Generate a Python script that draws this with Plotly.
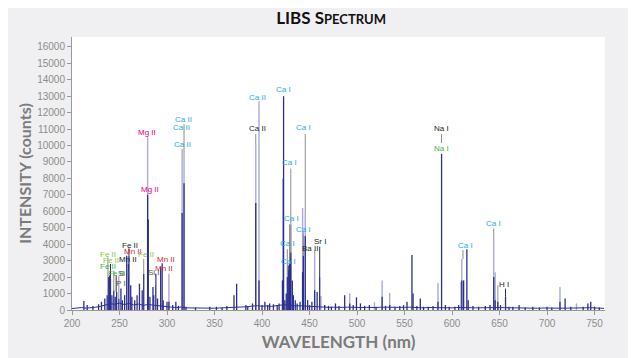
import plotly.graph_objects as go

# baseline of the spectrum, sampled every 5 nm (counts)
base_nm = list(range(200, 761, 5))
base_counts = [
    90, 120, 150, 110, 130, 170, 220, 300, 380, 350, 420, 330, 400, 310, 360, 280,
    340, 300, 260, 240, 200, 170, 150, 180, 130, 120, 110, 120, 105, 115, 110, 120,
    130, 150, 170, 160, 180, 200, 240, 260, 230, 250, 220, 270, 300, 320, 280, 250,
    260, 240, 220, 230, 200, 180, 160, 170, 150, 160, 170, 150, 140, 150, 160, 140,
    150, 170, 160, 150, 140, 150, 160, 170, 150, 140, 130, 150, 140, 160, 150, 140,
    130, 150, 160, 170, 140, 130, 140, 130, 150, 170, 150, 140, 130, 120, 130, 120,
    110, 120, 110, 120, 110, 120, 130, 120, 110, 120, 110, 120, 130, 140, 120, 110,
    100,
]

# emission lines, dark spectrum
dark_nm = [212.5, 216, 222, 228, 231, 234.5, 237, 238.2, 239.6, 240.5, 242, 244, 245.5,
           247, 249.3, 251.5, 253, 255.4, 257.6, 259.4, 259.9, 261.8, 263, 266, 268.5,
           271, 273.9, 275.5, 279.6, 280.3, 282, 285.2, 286, 288.2, 290, 293.3, 294.9,
           296, 300, 302, 306, 309.3, 312, 315.9, 317.9, 320, 330, 345, 352, 358, 363,
           370.5, 373.3, 383, 385, 390, 393.4, 396.8, 400, 403, 406, 408, 412, 416, 418,
           421.5, 422.7, 424, 425.5, 426.6, 427.5, 428.3, 428.9, 429.9, 430.3, 431.9,
           433, 435, 437, 440, 442.7, 443.5, 445.5, 448, 450, 452.5, 455.4, 458, 460.7,
           466, 470, 473, 477.3, 481, 487, 492.3, 496, 499.4, 503.6, 508, 513, 520,
           526.4, 530, 534.4, 540, 545, 549, 552.6, 557.8, 559, 563, 566.6, 570, 575,
           580, 585.2, 589.0, 593, 597, 603, 607, 610.3, 612.2, 615.6, 617, 622, 628,
           635, 640, 643.9, 645.4, 648.2, 651, 656.3, 660, 664, 670.6, 677, 685, 692,
           700, 705, 713.6, 719, 725, 738, 743, 746, 750, 755]
dark_counts = [550, 300, 250, 350, 500, 700, 900, 2000, 2100, 1900, 900, 1200, 800,
               1100, 700, 1300, 600, 900, 3300, 2800, 3300, 1500, 800, 600, 900,
               1600, 1200, 2200, 7000, 5500, 800, 1400, 900, 2200, 700, 2600, 2850,
               600, 500, 500, 300, 500, 250, 5900, 7700, 200, 150, 200, 200, 150, 250,
               900, 1600, 300, 250, 400, 6500, 1800, 300, 500, 300, 400, 350, 300, 400,
               1800, 13000, 600, 1000, 2000, 2700, 2400, 2800, 3200, 3500, 1800,
               900, 600, 400, 500, 2300, 3300, 4500, 600, 300, 500, 1200, 1100, 2000,
               300, 250, 200, 400, 250, 900, 400, 300, 770, 400, 250, 300, 200,
               800, 250, 300, 200, 250, 300, 500, 3350, 1000, 250, 700, 200, 200,
               250, 500, 9500, 300, 200, 200, 300, 1800, 1800, 3700, 600, 250, 200,
               250, 300, 2000, 600, 500, 300, 800, 200, 200, 300, 150, 200, 150,
               200, 150, 500, 700, 200, 200, 400, 500, 200, 150]

# second (lighter) spectrum
light_nm = [279.6, 302, 315.9, 317.9, 393.4, 396.8, 421.8, 430.3, 442.7, 443.5, 445.5,
            455.4, 462, 492.3, 518.3, 526.4, 534.4, 585.2, 609.4, 610.3, 643.9, 645.4,
            648.2, 713.6, 731]
light_counts = [10500, 2200, 9100, 9600, 10100, 12700, 8000, 5200, 6200, 4800, 6000,
                3650, 850, 1000, 470, 1800, 1030, 1640, 1700, 3100, 4300, 2300,
                1500, 1400, 400]

# line labels
lab_text = ["Fe II", "Fe II", "Fe II", "Fe II", "Si I", "P I", "Fe II", "Mn II", "Mn II",
            "Fe II", "Si I", "Mn II", "Mn II", "Mg II", "Mg II", "Ca II", "Ca II", "Ca II",
            "Ca II", "Ca II", "Ca I", "Ca I", "Ca I", "Ca I", "Ca I", "Ca I", "Ca I",
            "Ba II", "Sr I", "Na I", "Na I", "Ca I", "Ca I", "H I"]
lab_nm = [237.8, 241, 237.8, 246.2, 254.6, 251.5, 261, 264, 258.8,
          277.7, 286, 298.7, 296.6, 278.8, 282, 317.6, 315.5, 316.6,
          395.4, 395.4, 422.7, 429, 431.1, 443.4, 443.4, 426.9, 427.9,
          450, 460.5, 588.7, 588.7, 613.9, 643.3, 654.8]
lab_y = [3400, 2980, 2620, 2250, 2190, 1640, 3950, 3530, 3100,
         3350, 2310, 3100, 2550, 10770, 7300, 11560, 11070, 10040,
         12900, 11010, 13380, 8940, 5535, 11070, 4870, 4015, 2920,
         3770, 4140, 11010, 9850, 3950, 5290, 1580]
lab_color = ["#8cc63f", "#8cc63f", "#3ab54a", "#3ab54a", "#555555", "#555555", "#231f20",
             "#d7282f", "#231f20", "#8cc63f", "#555555", "#d7282f", "#d7282f", "#e5007d",
             "#e5007d", "#29a9e0", "#29a9e0", "#29a9e0", "#29a9e0", "#231f20", "#29a9e0",
             "#29a9e0", "#29a9e0", "#29a9e0", "#29a9e0", "#29a9e0", "#29a9e0", "#231f20",
             "#231f20", "#231f20", "#3ab54a", "#29a9e0", "#29a9e0", "#231f20"]

# leader lines from labels down to the peaks
lead_nm = [237.8, 240.5, 244, 246.5, 249.3, 259.9, 275.5, 288.2, 315.9, 317.9, 393.4,
           426.6, 429.0, 430.3, 443.5, 445.5, 460.7, 588.9, 611.5, 643.9, 656.3]
lead_top = [3200, 2800, 2400, 2100, 2050, 3750, 3100, 2050, 9800, 11300, 10700,
            3700, 5200, 8600, 4550, 10700, 3850, 10700, 3650, 4950, 1300]
lead_bottom = [2000, 1900, 1200, 1100, 700, 3300, 2200, 1500, 9100, 9600, 10100,
               2000, 2800, 3500, 3300, 6000, 2000, 10150, 3100, 4300, 800]
lead_color = ["#8c8c8c", "#333333", "#8c8c8c", "#333333", "#8c8c8c", "#333333",
              "#8c8c8c", "#8c8c8c", "#8c8c8c", "#8c8c8c", "#8c8c8c", "#8c8c8c",
              "#8c8c8c", "#8c8c8c", "#8c8c8c", "#8c8c8c", "#333333", "#8c8c8c",
              "#8c8c8c", "#8c8c8c", "#333333"]


def sticks(xs, lows, highs):
    sx, sy = [], []
    for x, lo, hi in zip(xs, lows, highs):
        sx += [x, x, None]
        sy += [lo, hi, None]
    return sx, sy


fig = go.Figure()

lx, ly = sticks(light_nm, [0] * len(light_nm), light_counts)
fig.add_trace(go.Scatter(x=lx, y=ly, mode="lines", line=dict(color="#a9a9da", width=1.4),
                         hoverinfo="skip"))

dx, dy = sticks(dark_nm, [0] * len(dark_nm), dark_counts)
fig.add_trace(go.Scatter(x=dx, y=dy, mode="lines", line=dict(color="#2c2f8e", width=1.3),
                         hoverinfo="skip"))

fig.add_trace(go.Scatter(x=base_nm, y=base_counts, mode="lines",
                         line=dict(color="#2c2f8e", width=1), hoverinfo="skip"))

for c in set(lead_color):
    idx = [i for i, col in enumerate(lead_color) if col == c]
    gx, gy = sticks([lead_nm[i] for i in idx], [lead_bottom[i] for i in idx],
                    [lead_top[i] for i in idx])
    fig.add_trace(go.Scatter(x=gx, y=gy, mode="lines", line=dict(color=c, width=1),
                             hoverinfo="skip"))

for t, x, y, c in zip(lab_text, lab_nm, lab_y, lab_color):
    fig.add_annotation(x=x, y=y, text=t, showarrow=False,
                       font=dict(family="Liberation Sans", size=8, color=c),
                       xanchor="center", yanchor="middle")

# the page puts the figure 8px in from the top-left corner, margins allow for it
fig.update_layout(
    width=636, height=358,
    margin=dict(l=64, r=39, t=29, b=56),
    paper_bgcolor="#f0f0f2", plot_bgcolor="white",
    showlegend=False,
    title=dict(text="LIBS S<span style='font-size:13px'>PECTRUM</span>",
               x=0.508, xanchor="center", y=0.972, yanchor="middle",
               font=dict(family="Lato", size=17, color="#111111", weight="bold")),
)
fig.update_xaxes(range=[200, 761], dtick=50, showline=True, linecolor="#999999",
                 ticks="outside", ticklen=4, tickcolor="#999999", showgrid=False,
                 zeroline=False,
                 tickfont=dict(family="Liberation Sans", size=10, color="#8c8c8c"),
                 title=dict(text="WAVELENGTH (nm)", standoff=8,
                            font=dict(family="Lato", size=17, color="#7b7b7b",
                                      weight="bold")))
fig.update_yaxes(range=[0, 16600], dtick=1000, tickformat="d", showline=True,
                 linecolor="#999999",
                 ticks="outside", ticklen=4, tickcolor="#999999", showgrid=False,
                 zeroline=False,
                 tickfont=dict(family="Liberation Sans", size=10, color="#8c8c8c"),
                 title=dict(text="INTENSITY (counts)", standoff=1,
                            font=dict(family="Lato", size=16, color="#7b7b7b",
                                      weight="bold")))

fig.write_html("out.html")
